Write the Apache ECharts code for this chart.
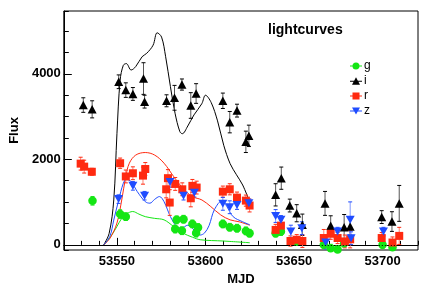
<!DOCTYPE html>
<html><head><meta charset="utf-8">
<script src="https://cdn.jsdelivr.net/npm/echarts@6/dist/echarts.min.js"></script>
<style>html,body{margin:0;padding:0;background:#fff}#c{width:436px;height:295px}</style>
</head><body><div id="c"></div>
<script>
// ---- data (x = MJD, y = Flux, e = error) ----
const gPts = [[53536.2,1030,100],[53551.8,720,100],[53555,660,90],[53582.9,370,90],[53583.7,585,90],[53586.7,330,90],[53587.6,600,90],[53592.6,490,90],[53594.7,275,90],[53595.8,405,90],[53609.8,490,90],[53613.7,413,90],[53617.8,390,90],[53622.8,327,90],[53624.9,273,90],[53639.6,273,90],[53642.6,311,90],[53651.5,77,90],[53666.8,0,90],[53670.7,-77,90],[53674.6,-110,90],[53678.3,40,90],[53700,0,90],[53705.6,-54,90]];
const iPts = [[53531,3270,170],[53536,3170,200],[53551,3815,160],[53555,3620,170],[53559,3530,150],[53565,3890,370],[53565.6,3350,150],[53578,3370,140],[53582.5,3440,290],[53586.7,3750,130],[53591.7,3260,300],[53594.7,3540,230],[53609.8,3370,180],[53613.7,2870,250],[53617.8,3140,150],[53622.8,2410,250],[53624.5,2550,250],[53639.6,1170,260],[53642.8,1560,260],[53647.6,920,150],[53651.5,740,200],[53654.7,470,250],[53667.5,970,280],[53670.7,450,230],[53678.3,410,300],[53681.7,430,200],[53699.5,650,150],[53705.3,545,230],[53709.4,970,420]];
const rPts = [[53529.5,1900,150],[53531.5,1830,150],[53535.8,1710,80],[53551.8,1910,120],[53555,1600,150],[53559,1675,150],[53564.7,1620,200],[53566,1775,150],[53577.8,1300,200],[53578.8,1560,200],[53579.8,990,300],[53582.9,1425,150],[53586.9,1300,150],[53591.7,1090,200],[53592.6,1380,150],[53595,1340,150],[53609.8,1245,130],[53613.7,1300,130],[53617.8,1105,130],[53622.8,1035,130],[53624.9,920,150],[53639.6,350,130],[53642.6,450,130],[53648,90,120],[53651.5,120,120],[53654.7,90,150],[53666.8,160,200],[53670.7,260,130],[53674.6,160,130],[53678.7,80,150],[53681.7,130,200],[53699.5,160,130],[53705.6,55,130],[53709.4,210,200]];
const zPts = [[53550.9,1070,100],[53559,1380,100],[53565.6,1150,100],[53580,1470,120],[53587.6,1150,100],[53593.7,1220,100],[53609.8,960,150],[53613.7,880,150],[53617.8,930,100],[53624.5,975,100],[53639.6,675,150],[53642.6,585,100],[53648.2,310,150],[53654.4,390,150],[53667.9,55,150],[53674.6,310,100],[53681.7,585,420],[53682.2,155,150],[53700.5,310,100]];

const iModel = [[53542.5,0],[53545.6,270],[53548.2,1050],[53550,2600],[53551.8,3850],[53553.6,4200],[53555.3,4240],[53558,4090],[53560.6,4170],[53564.2,4400],[53566.8,4480],[53570.4,4670],[53572.7,4960],[53575.2,4860],[53577.5,4400],[53580.2,3700],[53582.8,3080],[53585.5,2650],[53586.9,2600],[53590,2780],[53593.5,3040],[53597.9,3300],[53600,3500],[53603.2,3330],[53606.8,2900],[53610.3,2330],[53613.9,1900],[53617.5,1640],[53621,1400],[53624.5,1050]];
const rModel = [[53542.5,0],[53546,150],[53550,510],[53552.7,1050],[53555,1600],[53557,1910],[53560.6,2100],[53566,2160],[53571.3,2100],[53576.6,1910],[53582,1600],[53587.3,1320],[53592.6,1130],[53598,1050],[53603,895],[53608.6,700],[53613.9,585],[53619,540],[53625,460]];
const zModel = [[53542.5,0],[53546,200],[53548.2,580],[53551,1050],[53553.6,1440],[53555.3,1530],[53558,1480],[53561.5,1245],[53566,1010],[53568.6,975],[53571.3,1065],[53574,1130],[53576.6,1010],[53580.2,660],[53583.7,430],[53586.4,390],[53590,460],[53593.5,350],[53597,230],[53599.5,280],[53602,450],[53605,820],[53609.5,1040],[53612,900],[53615.6,660],[53621,540],[53625,470]];
const gModel = [[53542.5,0],[53546.4,190],[53550,430],[53552.7,620],[53555.3,720],[53558.9,780],[53562.4,720],[53566,660],[53571.3,620],[53576.6,585],[53582,430],[53587.3,275],[53592.6,180],[53597,120],[53610,90],[53625,50]];

const bands = ['g','i','r','z'];
const xRange = [53520, 53720];
const yRange = [-120, 5470];

const C = {g:'#14e614', i:'#000000', r:'#ff2a10', z:'#1f4cff'};
const EC = {g:'#7ef07e', i:'#555555', r:'#ff8070', z:'#7d95ff'};
const SYM = {g:'circle', i:'triangle', r:'rect', z:'path://M0,0 L10,0 L5,9 Z'};
const SZ = {g:8.5, i:[9,8.5], r:8, z:[9,8]};
const ICON = {
  g:'path://M0,3.5h12v1h-12z M6,0.5a3.5,3.5 0 1,1 -0.01,0z',
  i:'path://M0,3.5h12v1h-12z M6,0 L10,7.5 L2,7.5 Z',
  r:'path://M0,3.5h12v1h-12z M2.5,0.5h7v7h-7z',
  z:'path://M0,3.5h12v1h-12z M2,0.5 L10,0.5 L6,7.5 Z'
};
const pts = {g:gPts, i:iPts, r:rPts, z:zPts};
const models = {g:gModel, i:iModel, r:rModel, z:zModel};

function errSeries(b){
  return {
    type:'custom', name:b+'_err', xAxisIndex:0, yAxisIndex:0, clip:true, silent:true, z:3,
    data: pts[b],
    renderItem:function(params, api){
      const x=api.value(0), y=api.value(1), e=api.value(2);
      const lo=api.coord([x,y-e]), hi=api.coord([x,y+e]);
      const st={stroke:EC[b], lineWidth:1};
      return {type:'group', children:[
        {type:'line', shape:{x1:lo[0],y1:lo[1],x2:hi[0],y2:hi[1]}, style:st},
        {type:'line', shape:{x1:lo[0]-2,y1:lo[1],x2:lo[0]+2,y2:lo[1]}, style:{stroke:C[b],lineWidth:1}},
        {type:'line', shape:{x1:hi[0]-2,y1:hi[1],x2:hi[0]+2,y2:hi[1]}, style:{stroke:C[b],lineWidth:1}}
      ]};
    }
  };
}

const series = [];
bands.forEach(b=>{
  series.push({type:'line', name:b+'_model', data:models[b], smooth:0.35, showSymbol:false,
    lineStyle:{color:C[b], width:1}, z:2, silent:true});
});
bands.forEach(b=>series.push(errSeries(b)));
bands.forEach(b=>{
  series.push({type:'scatter', name:b, data:pts[b].map(p=>[p[0],p[1]]), symbol:SYM[b], symbolSize:SZ[b],
    itemStyle:{color:C[b], opacity:1}, z:4});
});
series[0].markLine = {silent:true, symbol:'none', label:{show:false},
  lineStyle:{type:[1,2], color:'#000', width:1}, data:[{yAxis:0}]};

const font = 'Liberation Sans, Arial, Helvetica, sans-serif';
const chart = echarts.init(document.getElementById('c'), null, {renderer:'canvas'});
chart.setOption({
  animation:false,
  backgroundColor:'#fff',
  title:{text:'lightcurves', left:268, top:23, padding:0,
    textStyle:{fontFamily:font, fontWeight:'bold', fontSize:14, color:'#000'}},
  legend:{orient:'vertical', left:350, top:59, itemWidth:12, itemHeight:8, itemGap:1, padding:0,
    data: bands.map(b=>({name:b, icon:ICON[b], itemStyle:{color:C[b]}})),
    textStyle:{fontFamily:font, fontSize:12, color:'#000', lineHeight:14, padding:[0,0,0,-3]}},
  grid:{left:44, right:18, top:11, bottom:45, show:true, borderColor:'#000', borderWidth:1, backgroundColor:'transparent'},
  xAxis:[
    {type:'value', min:xRange[0], max:xRange[1], splitNumber:4, splitLine:{show:false},
     axisLine:{lineStyle:{color:'#000'}}, axisTick:{inside:true, length:7, lineStyle:{color:'#000'}},
     axisLabel:{color:'#000', fontFamily:font, fontWeight:'bold', fontSize:13, margin:5, showMinLabel:false, showMaxLabel:false,
       formatter:v=> (v%50===0 && v>xRange[0] && v<xRange[1]) ? String(v) : ''},
     name:'MJD', nameLocation:'middle', nameGap:19,
     nameTextStyle:{color:'#000', fontFamily:font, fontWeight:'bold', fontSize:13}},
    {type:'value', min:xRange[0], max:xRange[1], splitNumber:20, position:'bottom', splitLine:{show:false},
     axisLine:{show:false}, axisLabel:{show:false}, axisTick:{inside:true, length:4, lineStyle:{color:'#000'}}}
  ],
  yAxis:[
    {type:'value', min:yRange[0], max:yRange[1], splitNumber:3, splitLine:{show:false},
     axisLine:{show:true, lineStyle:{color:'#000'}}, axisTick:{inside:true, length:8, lineStyle:{color:'#000'}},
     axisLabel:{color:'#000', fontFamily:font, fontWeight:'bold', fontSize:13, margin:3, showMinLabel:false, showMaxLabel:false,
       formatter:v=> (v%2000===0) ? String(v) : ''},
     name:'Flux', nameLocation:'middle', nameGap:28, nameRotate:90,
     nameTextStyle:{color:'#000', fontFamily:font, fontWeight:'bold', fontSize:13}},
    {type:'value', min:yRange[0], max:yRange[1], splitNumber:11, position:'left', splitLine:{show:false},
     axisLine:{show:false}, axisLabel:{show:false}, axisTick:{inside:true, length:5, lineStyle:{color:'#000'}}}
  ],
  series: series
});
</script></body></html>
